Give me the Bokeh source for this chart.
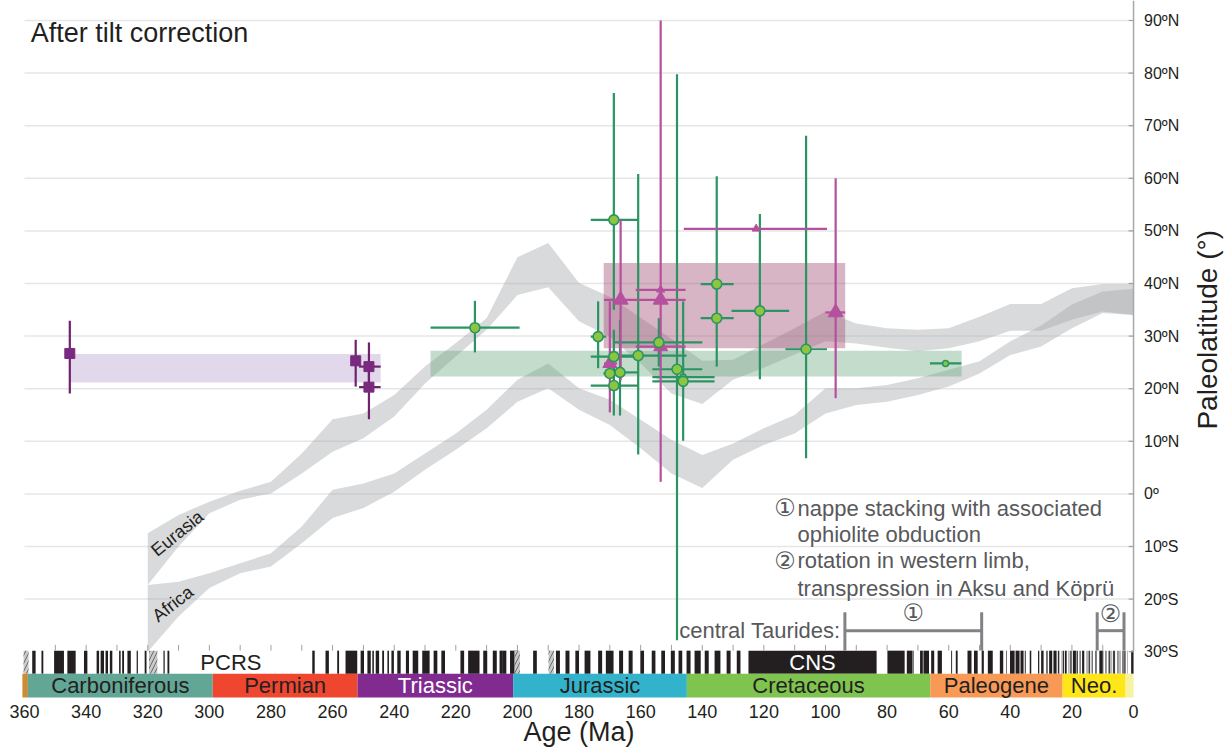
import numpy as np
from bokeh.plotting import figure
from bokeh.models import Range1d
from bokeh.core.properties import value
from bokeh.embed import file_html
from bokeh.resources import INLINE

FONT = "Liberation Sans"

# ---------------- data ----------------
# Apparent polar wander derived paleolatitude envelopes (age in Ma, latitude in deg)
band_age = [320, 310, 300, 290, 280, 270, 260, 250, 240, 230, 220, 210, 200, 190, 180,
            170, 160, 150, 140, 130, 120, 110, 100, 90, 80, 70, 60, 50, 40, 30, 20, 10, 0]
eurasia_lo = [-17.3, -10.0, -3.7, -1.1, 0.1, 3.9, 8.0, 10.6, 14.7, 21.0, 26.1, 31.2, 37.8, 39.3, 32.8,
              29.9, 24.8, 19.1, 17.1, 21.7, 24.0, 26.5, 29.0, 28.6, 27.8, 27.1, 27.7, 29.0, 31.0, 31.0, 33.1, 34.7, 34.0]
eurasia_hi = [-7.5, -4.0, -1.5, 0.6, 2.3, 7.7, 14.2, 15.3, 18.8, 24.2, 28.7, 33.4, 45.0, 47.7, 40.1,
              37.5, 33.5, 29.5, 25.3, 25.5, 28.5, 31.5, 34.7, 32.4, 31.5, 31.2, 31.5, 33.7, 36.1, 36.1, 39.1, 39.9, 39.9]
africa_lo = [-30.0, -23.3, -17.9, -15.1, -13.8, -9.4, -4.6, -2.7, 0.4, 4.6, 8.4, 12.5, 17.5, 20.1, 16.0,
             13.1, 8.7, 3.9, 1.1, 6.5, 9.3, 11.5, 15.3, 16.9, 17.5, 18.8, 20.4, 22.9, 26.4, 28.0, 31.5, 34.4, 34.0]
africa_hi = [-17.3, -16.7, -15.1, -13.2, -11.3, -6.2, 0.8, 2.0, 3.9, 7.7, 11.5, 16.0, 21.7, 24.8, 20.1,
             17.9, 14.1, 10.3, 7.4, 9.6, 12.5, 15.0, 20.1, 20.1, 20.7, 22.0, 23.6, 25.2, 29.0, 32.0, 36.0, 38.5, 39.0]

# reference paleolatitude ranges (shaded boxes)
box_old = [345.3, 228.2, 172.0]
box_young = [244.4, 55.8, 93.6]
box_lo = [21.2, 22.3, 27.7]
box_hi = [26.6, 27.2, 43.9]

# purple squares
sq_age = [345.3, 252.5, 248.2, 248.2]
sq_lat = [26.7, 25.3, 24.2, 20.3]
sq_lat_lo = [19.1, 20.4, 19.6, 14.2]
sq_lat_hi = [32.9, 29.3, 28.8, 24.6]
sq_age_old = [345.3, 252.5, 251.4, 251.4]
sq_age_young = [345.3, 252.5, 244.4, 244.4]

# green circles
gr_age = [213.8, 168.7, 173.8, 168.7, 160.8, 170.0, 166.7, 168.7, 154.1, 148.2, 146.2, 146.2,
          135.3, 135.3, 121.3, 106.3, 61.0]
gr_lat = [31.6, 52.1, 29.9, 26.1, 26.3, 22.9, 23.1, 20.6, 28.8, 23.7, 22.2, 21.4,
          39.9, 33.4, 34.8, 27.5, 24.8]
gr_lat_lo = [26.9, 35.0, 23.9, 20.8, 7.5, 22.9, 14.9, 14.9, 24.2, -27.8, 22.2, 10.1,
             24.2, 33.4, 21.8, 6.8, 24.8]
gr_lat_hi = [36.7, 76.2, 36.6, 31.2, 60.8, 22.9, 33.1, 26.1, 33.4, 79.8, 22.2, 36.6,
             60.4, 33.4, 53.2, 68.1, 24.8]
gr_age_old = [228.2, 176.2, 176.2, 176.2, 168.7, 172.1, 168.7, 176.2, 168.7, 156.2, 156.2, 156.2,
              140.5, 140.5, 130.5, 113.0, 66.1]
gr_age_young = [199.3, 160.8, 171.2, 160.8, 145.1, 168.0, 160.8, 160.8, 140.0, 140.0, 136.0, 136.0,
                129.8, 129.8, 111.8, 99.5, 55.9]

# magenta triangles
tr_age = [170.0, 166.5, 153.5, 153.5, 153.5, 122.5, 96.7]
tr_lat = [24.8, 36.9, 38.8, 36.9, 28.0, 50.4, 34.5]
tr_lat_lo = [15.5, 21.6, 38.8, 2.3, 28.0, 50.4, 18.2]
tr_lat_hi = [36.6, 52.2, 90.0, 38.8, 28.0, 50.4, 60.0]
tr_age_old = [171.9, 171.9, 161.6, 153.5, 161.6, 146.0, 100.0]
tr_age_young = [167.6, 145.4, 145.4, 153.5, 145.4, 99.5, 93.6]

# geological periods
period_names = ["", "Carboniferous", "Permian", "Triassic", "Jurassic", "Cretaceous", "Paleogene", "Neo.", ""]
period_old = [419.2, 358.9, 298.9, 251.9, 201.4, 145.0, 66.0, 23.03, 2.58]
period_young = [358.9, 298.9, 251.9, 201.4, 145.0, 66.0, 23.03, 2.58, 0.0]

# geomagnetic polarity: normal intervals (old, young)
normal_old = [357.5, 354.5, 350.4, 346.1, 340.7, 336.6, 335.3, 333.7, 332.3, 329.3, 328.3, 326.6, 323.6, 321.0,
              314.9, 313.6, 266.6, 262.3, 258.5, 255.8, 250.9, 248.7, 247.1, 246.0, 243.9, 242.2, 240.9, 239.0,
              236.2, 234.0, 230.9, 227.2, 224.7, 218.5, 216.0, 211.1, 208.0, 205.8, 204.9, 202.4, 194.9,
              187.5, 184.4, 181.2, 178.2, 173.8, 171.3, 167.0, 163.9, 160.1, 156.4, 153.3, 150.2, 147.7,
              145.1, 142.5, 139.2, 136.0, 132.1, 128.8, 125.0,
              79.9, 73.6, 71.7, 69.3, 68.2, 65.7, 63.6, 62.5, 59.2, 57.7, 53.9, 51.8, 49.3, 47.3, 43.4, 41.4,
              40.1, 38.3, 36.7, 35.3, 33.7, 31.0, 30.0, 28.3, 27.4, 26.0, 25.0, 24.5, 23.3, 23.0, 22.3, 21.2,
              20.7, 20.2, 19.7, 18.5, 17.5, 16.7, 15.2, 14.6, 14.2, 13.7, 13.4, 12.5, 12.2, 11.1, 9.9, 9.1,
              8.1, 7.6, 7.2, 6.7, 6.3, 5.2, 4.9, 4.6, 4.3, 3.6, 3.2, 3.0, 1.9, 0.78]
normal_young = [356.4, 353.9, 347.2, 343.4, 339.6, 335.8, 334.2, 332.9, 331.5, 328.8, 327.7, 325.5, 323.2, 320.4,
                314.5, 313.0, 265.8, 261.2, 257.9, 252.0, 249.8, 247.6, 246.6, 244.9, 243.3, 241.7, 240.1, 237.9,
                235.2, 232.2, 228.5, 226.0, 223.5, 217.3, 212.3, 209.8, 206.7, 204.8, 203.6, 199.9, 193.7,
                186.2, 183.1, 180.0, 176.3, 172.5, 168.8, 165.7, 162.6, 158.9, 155.2, 152.1, 148.9, 146.5,
                143.8, 140.5, 137.9, 134.1, 130.8, 127.6, 83.4,
                74.3, 71.8, 71.4, 68.4, 66.4, 64.7, 62.5, 62.2, 58.9, 57.1, 52.6, 50.6, 48.6, 45.7, 42.3, 41.2,
                38.6, 37.0, 35.7, 35.0, 33.2, 30.6, 29.2, 27.9, 26.4, 25.1, 24.8, 24.1, 23.2, 22.6, 21.7, 21.1,
                20.4, 20.0, 18.7, 18.1, 17.2, 16.0, 15.0, 14.2, 14.1, 13.6, 13.2, 12.3, 12.0, 9.98, 9.8, 8.8,
                7.7, 7.5, 7.1, 6.4, 6.0, 5.0, 4.8, 4.5, 4.2, 3.3, 3.1, 2.6, 1.8, 0.0]
uncertain_old = [360.3, 319.6, 201.0, 189.9]
uncertain_young = [358.7, 316.9, 199.2, 188.1]
superchron_names = ["PCRS", "CNS"]
superchron_mid = [293.0, 104.2]

# tick values
x_ticks = list(range(0, 361, 20))
lat_ticks = list(range(-30, 91, 10))
lat_labels = [f"{abs(t)}ºN" if t > 0 else (f"{abs(t)}ºS" if t < 0 else "0º") for t in lat_ticks]

# ---------------- figure ----------------
X_START, X_END = 367.8, -30.5
Y_BOT, Y_TOP = -48.97, 93.8
p = figure(width=1227, height=751, x_range=Range1d(X_START, X_END), y_range=Range1d(Y_BOT, Y_TOP),
           output_backend="svg", toolbar_location=None, y_axis_location=None, x_axis_location=None,
           min_border_left=0, min_border_top=0, min_border_bottom=0, min_border_right=0)
p.outline_line_color = None
p.xgrid.visible = False
p.ygrid.visible = False
p.background_fill_color = "white"
p.border_fill_color = "white"

TXT = "#231f20"
TOP_TS = -29.8     # top of polarity bar
MID_TS = -34.2     # boundary polarity / period bar
BOT_TS = -38.7     # bottom of period bar

# grid lines
g_lats = [t for t in lat_ticks if t > -30]
p.segment(x0=[360] * len(g_lats), y0=g_lats, x1=[0] * len(g_lats), y1=g_lats,
          line_color="#e6e6e6", line_width=1.5)

# APWP bands
p.varea(x=band_age, y1=eurasia_lo, y2=eurasia_hi, fill_color="#a4a6a9", fill_alpha=0.42)
p.varea(x=band_age, y1=africa_lo, y2=africa_hi, fill_color="#a4a6a9", fill_alpha=0.42)

# reference boxes
p.quad(left=box_old, right=box_young, bottom=box_lo, top=box_hi,
       fill_color=["#b9a3cf", "#6aa87e", "#a04e73"], fill_alpha=[0.42, 0.40, 0.42], line_color=None)

# error bars
GREEN = "#2a9462"
MAG = "#b5509f"
PURP = "#6e226f"
p.segment(x0=gr_age_old, y0=gr_lat, x1=gr_age_young, y1=gr_lat, line_color=GREEN, line_width=2.2)
p.segment(x0=gr_age, y0=gr_lat_lo, x1=gr_age, y1=gr_lat_hi, line_color=GREEN, line_width=2.2)
p.segment(x0=tr_age_old, y0=tr_lat, x1=tr_age_young, y1=tr_lat, line_color=MAG, line_width=2.2)
p.segment(x0=tr_age, y0=tr_lat_lo, x1=tr_age, y1=tr_lat_hi, line_color=MAG, line_width=2.2)
p.segment(x0=sq_age_old, y0=sq_lat, x1=sq_age_young, y1=sq_lat, line_color=PURP, line_width=2.2)
p.segment(x0=sq_age, y0=sq_lat_lo, x1=sq_age, y1=sq_lat_hi, line_color=PURP, line_width=2.2)

# markers
gr_size = [10] * len(gr_age)
gr_size[10] = 6
gr_size[16] = 6
tr_size = [14, 15, 8, 15, 14, 8, 15]
p.scatter(x=sq_age, y=sq_lat, marker="square", size=10, fill_color="#7a2a7e", line_color="#7a2a7e")
p.scatter(x=tr_age, y=tr_lat, marker="triangle", size=tr_size, fill_color=MAG, line_color=MAG)
p.scatter(x=gr_age, y=gr_lat, marker="circle", size=gr_size, fill_color="#8cc63f", line_color=GREEN,
          line_width=1.6)

# APWP labels
p.text(x=[310.4], y=[-7.5], text=["Eurasia"], angle=0.68, text_font=value(FONT), text_font_size=value("18px"),
       text_color=TXT, text_align="center", text_baseline="middle")
p.text(x=[311.9], y=[-20.9], text=["Africa"], angle=0.66, text_font=value(FONT), text_font_size=value("18px"),
       text_color=TXT, text_align="center", text_baseline="middle")

# title
p.text(x=[358.0], y=[87.6], text=["After tilt correction"], text_font=value(FONT), text_font_size=value("27px"),
       text_color=TXT, text_align="left", text_baseline="middle")

# annotation of events
ANN = "#58595b"
p.text(x=[116.6, 116.6], y=[-2.7, -12.7], text=["①", "②"], text_font=value("DejaVu Sans"),
       text_font_size=value("24px"), text_color=ANN, text_align="left", text_baseline="middle")
p.text(x=[109.1] * 4, y=[-2.7, -7.8, -12.7, -17.9],
       text=["nappe stacking with associated", "ophiolite obduction", "rotation in western limb,",
             "transpression in Aksu and Köprü"],
       text_font=value(FONT), text_font_size=value("22px"), text_color=ANN, text_align="left",
       text_baseline="middle")
p.text(x=[95.1], y=[-26.0], text=["central Taurides:"], text_font=value(FONT), text_font_size=value("22px"),
       text_color=ANN, text_align="right", text_baseline="middle")
# event brackets
ev_old = [93.7, 11.8]
ev_young = [49.3, 3.1]
BR = "#808285"
p.segment(x0=ev_old, y0=[-26.0] * 2, x1=ev_young, y1=[-26.0] * 2, line_color=BR, line_width=3)
p.segment(x0=ev_old + ev_young, y0=[-22.5] * 4, x1=ev_old + ev_young, y1=[TOP_TS] * 4, line_color=BR, line_width=3)
p.text(x=[(a + b) / 2 for a, b in zip(ev_old, ev_young)], y=[-22.6, -22.8], text=["①", "②"],
       text_font=value("DejaVu Sans"), text_font_size=value("24px"), text_color=ANN,
       text_align="center", text_baseline="middle")

# ---------------- time scale ----------------
p.quad(left=[360.7], right=[0], bottom=[MID_TS], top=[TOP_TS], fill_color="white", line_color=None)
p.quad(left=normal_old, right=normal_young, bottom=MID_TS, top=TOP_TS, fill_color=TXT, line_color=None)
p.quad(left=uncertain_old, right=uncertain_young, bottom=MID_TS, top=TOP_TS, fill_color="#c8c9ca",
       line_color=None, hatch_pattern="/", hatch_color="#555555", hatch_scale=8, hatch_weight=0.8)
ts_ticks = list(range(10, 360, 10))
p.segment(x0=ts_ticks, y0=[TOP_TS] * len(ts_ticks), x1=ts_ticks, y1=[TOP_TS + 1.1] * len(ts_ticks),
          line_color="#a0a0a0", line_width=1)
p.text(x=superchron_mid, y=[(TOP_TS + MID_TS) / 2] * 2, text=superchron_names, text_font=value(FONT),
       text_font_size=value("22px"), text_color=[TXT, "white"], text_align="center",
       text_baseline="middle")

period_colors = ["#cb8c37", "#62a696", "#ef4630", "#812a90", "#32b3cb", "#7fc44e", "#f89a56", "#ffe619", "#f7f2a0"]
period_text_colors = [TXT, TXT, TXT, "white", TXT, TXT, TXT, TXT, TXT]
p.quad(left=[min(o, 360.7) for o in period_old], right=period_young, bottom=BOT_TS, top=MID_TS,
       fill_color=period_colors, line_color=None)
p.text(x=[(a + b) / 2 for a, b in zip(period_old, period_young)], y=[(MID_TS + BOT_TS) / 2] * len(period_names),
       text=period_names, text_font=value(FONT), text_font_size=value("22px"), text_color=period_text_colors,
       text_align="center", text_baseline="middle")

# x tick labels and title
p.text(x=x_ticks, y=[-40.1] * len(x_ticks), text=[str(t) for t in x_ticks], text_font=value(FONT),
       text_font_size=value("18px"), text_color=TXT, text_align="center", text_baseline="top")
p.text(x=[180], y=[-45.3], text=["Age (Ma)"], text_font=value(FONT), text_font_size=value("27px"),
       text_color=TXT, text_align="center", text_baseline="middle")

# right latitude axis (line, inward ticks, labels, title)
p.segment(x0=[0], y0=[TOP_TS], x1=[0], y1=[Y_TOP], line_color="#a8a8a8", line_width=1.5)
p.segment(x0=[0] * len(lat_ticks), y0=lat_ticks, x1=[1.6] * len(lat_ticks), y1=lat_ticks,
          line_color="#a0a0a0", line_width=1.2)
p.text(x=[-3.4] * len(lat_ticks), y=lat_ticks, text=lat_labels, text_font=value(FONT),
       text_font_size=value("16px"), text_color=TXT, text_align="left", text_baseline="middle")
p.text(x=[-24.0], y=[31.2], text=["Paleolatitude (°)"], angle=np.pi / 2, text_font=value(FONT),
       text_font_size=value("28px"), text_color=TXT, text_align="center", text_baseline="middle")

open("out.html", "w").write(file_html(p, INLINE))
